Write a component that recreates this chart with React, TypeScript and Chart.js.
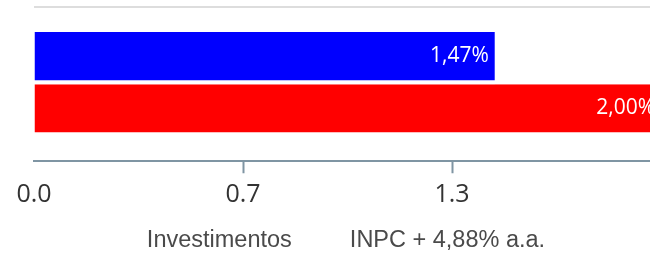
import React, { useEffect, useRef } from "react";
import { Chart, registerables } from "chart.js";

Chart.register(...registerables);

const categories = [""];
const seriesNames = ["Investimentos", "INPC + 4,88% a.a."];
const investimentos = [1.47];
const inpc = [2.0];
const seriesColors = ["#0000ff", "#ff0000"];
const xMin = 0;
const xMax = 2;
const xTickCount = 4;

const SHIFT = 9;
const CANVAS_W = 690;
const CANVAS_H = 262;
const PLOT_RIGHT = 661;

const valueLabels = {
  id: "valueLabels",
  afterDatasetsDraw(chart: any) {
    const ctx = chart.ctx;
    ctx.save();
    ctx.font = '21px "Open Sans"';
    ctx.fillStyle = "#ffffff";
    ctx.textAlign = "right";
    ctx.textBaseline = "middle";
    chart.data.datasets.forEach((ds: any, di: number) => {
      const meta = chart.getDatasetMeta(di);
      meta.data.forEach((el: any, i: number) => {
        const v = ds.data[i] as number;
        const txt = v.toFixed(2).replace(".", ",") + "%";
        ctx.fillText(txt, el.x - 6, el.y - 2);
      });
    });
    ctx.restore();
  },
};

const barStyle = {
  categoryPercentage: 104 / 154,
  barPercentage: 1,
  borderWidth: { top: 0, right: 0, bottom: 4, left: 0 },
  borderColor: "#ffffff",
  borderSkipped: "start",
};

export default function App() {
  const ref = useRef<HTMLCanvasElement | null>(null);
  useEffect(() => {
    if (!ref.current) return;
    const chart = new Chart(ref.current, {
      type: "bar",
      data: {
        labels: categories,
        datasets: [
          {
            label: seriesNames[0],
            data: investimentos,
            backgroundColor: seriesColors[0],
            ...barStyle,
          },
          {
            label: seriesNames[1],
            data: inpc,
            backgroundColor: seriesColors[1],
            ...barStyle,
          },
        ],
      },
      options: {
        indexAxis: "y",
        responsive: false,
        animation: false,
        devicePixelRatio: 1,
        layout: {
          autoPadding: false,
          padding: { left: 0, right: CANVAS_W - (PLOT_RIGHT + SHIFT), top: 7, bottom: 0 },
        },
        scales: {
          x: {
            type: "linear",
            min: xMin,
            max: xMax,
            afterFit(scale: any) {
              scale.height = 49.25;
            },
            ticks: {
              count: xTickCount,
              callback: (v: any, i: number) => (i === xTickCount - 1 ? "" : Number(v).toFixed(1)),
              color: "#333333",
              font: { family: "Open Sans", size: 25 },
              padding: 7,
              maxRotation: 0,
              autoSkip: false,
            },
            grid: {
              drawOnChartArea: false,
              drawTicks: true,
              tickLength: 12,
              tickWidth: 2,
              tickColor: (c: any) => (c.index === 0 ? "rgba(0,0,0,0)" : "#7f95a3"),
            },
            border: { display: true, color: "#7f95a3", width: 2 },
          },
          y: {
            type: "category",
            afterFit(scale: any) {
              scale.width = 34 + SHIFT;
            },
            ticks: { display: false },
            grid: { color: "#dddddd", lineWidth: 2, drawTicks: false },
            border: { display: false },
          },
        },
        plugins: {
          tooltip: { enabled: false },
          legend: {
            position: "bottom",
            labels: {
              color: "#4a4a4a",
              font: { family: "Liberation Sans", size: 23.5 },
              boxWidth: 28.25,
              padding: 18,
              generateLabels: (ch: any) =>
                Chart.defaults.plugins.legend.labels
                  .generateLabels(ch)
                  .map((it: any) => ({
                    ...it,
                    fillStyle: "rgba(0,0,0,0)",
                    strokeStyle: "rgba(0,0,0,0)",
                    lineWidth: 0,
                  })),
            },
          },
        },
      },
      plugins: [valueLabels],
    } as any);
    return () => chart.destroy();
  }, []);
  return (
    <div
      style={{
        position: "fixed",
        left: 0,
        top: 0,
        width: 650,
        height: 257,
        overflow: "hidden",
        background: "#ffffff",
      }}
    >
      <canvas
        ref={ref}
        width={CANVAS_W}
        height={CANVAS_H}
        style={{ display: "block", width: CANVAS_W, height: CANVAS_H, marginLeft: -SHIFT }}
      />
    </div>
  );
}
